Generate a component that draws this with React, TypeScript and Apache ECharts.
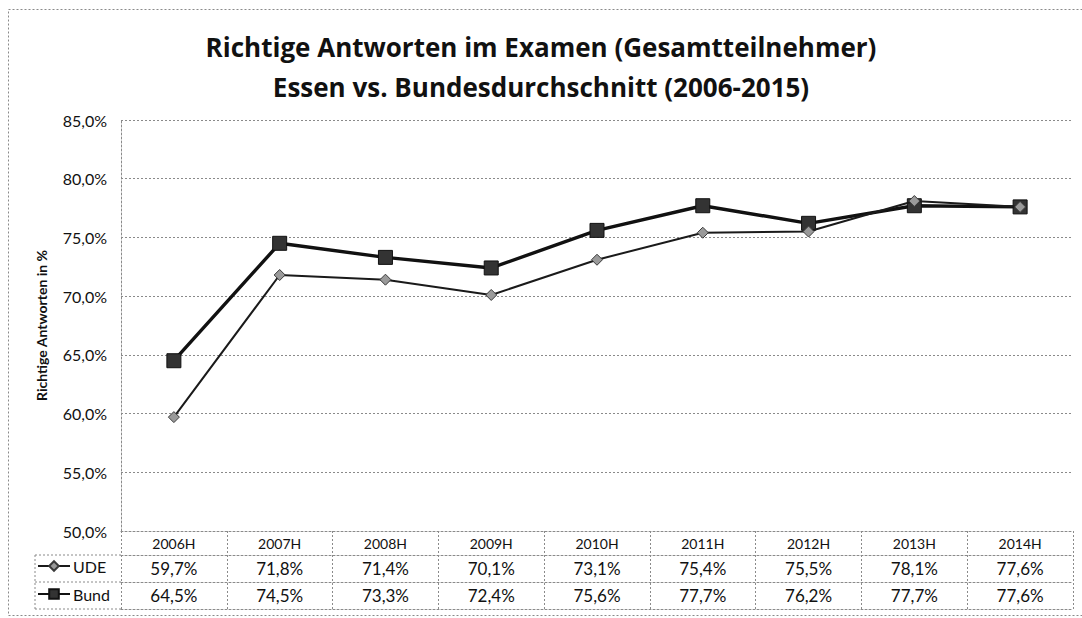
import React, { useEffect, useRef } from "react";
import * as echarts from "echarts";

const categories = ["2006H", "2007H", "2008H", "2009H", "2010H", "2011H", "2012H", "2013H", "2014H"];
const udeValues = [59.7, 71.8, 71.4, 70.1, 73.1, 75.4, 75.5, 78.1, 77.6];
const bundValues = [64.5, 74.5, 73.3, 72.4, 75.6, 77.7, 76.2, 77.7, 77.6];
const yTicks = { min: 50, max: 85, interval: 5 };
const titleLines = [
  "Richtige Antworten im Examen (Gesamtteilnehmer)",
  "Essen vs. Bundesdurchschnitt (2006-2015)",
];
const yAxisName = "Richtige Antworten in %";

const FONT = "Lato, 'Noto Sans', sans-serif";
const TITLE_FONT = "'Open Sans', Lato, sans-serif";
const fmt = (v: number) => v.toFixed(1).replace(".", ",") + "%";
const dotted = { color: "#8a8a8a", width: 1, type: [2, 2] as any };

export default function App() {
  const ref = useRef<HTMLDivElement>(null);
  useEffect(() => {
    if (!ref.current) return;
    const chart = echarts.init(ref.current, undefined, { renderer: "svg" });
    const gridTop = 120;
    const gridBottomY = 531;
    const gridLeft = 121;
    const gridRight = 1073;
    const row1 = gridBottomY + 24;
    const row2 = row1 + 27;
    const row3 = row2 + 27;
    chart.setOption({
      animation: false,
      backgroundColor: "#fff",
      textStyle: { fontFamily: FONT },
      title: {
        text: titleLines.join("\n"),
        left: "center",
        top: 22,
        textStyle: { fontFamily: TITLE_FONT, fontSize: 26, fontWeight: "bold", color: "#111", lineHeight: 40 },
      },
      legend: {
        orient: "vertical",
        left: 32,
        top: row1 - 2,
        itemGap: 12,
        itemWidth: 32,
        itemHeight: 12,
        textStyle: { fontFamily: FONT, fontSize: 16, color: "#111", padding: [0, 0, 0, -2] },
        data: ["UDE", "Bund"],
      },
      grid: { left: gridLeft, right: 1082 - gridRight, top: gridTop, bottom: 618 - gridBottomY, containLabel: false },
      xAxis: [
        {
          type: "category",
          data: categories,
          boundaryGap: true,
          axisLine: { show: true, lineStyle: dotted },
          axisTick: { show: true, interval: 0, length: row3 - gridBottomY, lineStyle: dotted },
          axisLabel: { interval: 0, margin: 5, fontSize: 14, color: "#111", fontFamily: FONT },
          splitLine: { show: false },
        },
        {
          type: "category",
          data: udeValues.map(fmt),
          position: "bottom",
          offset: row1 - gridBottomY,
          axisLine: { show: true, lineStyle: dotted },
          axisTick: { show: false },
          axisLabel: { interval: 0, margin: 5, fontSize: 17, color: "#111", fontFamily: FONT },
        },
        {
          type: "category",
          data: bundValues.map(fmt),
          position: "bottom",
          offset: row2 - gridBottomY,
          axisLine: { show: true, lineStyle: dotted },
          axisTick: { show: false },
          axisLabel: { interval: 0, margin: 5, fontSize: 17, color: "#111", fontFamily: FONT },
        },
        {
          type: "category",
          data: categories,
          position: "bottom",
          offset: row3 - gridBottomY,
          axisLine: { show: true, lineStyle: dotted },
          axisTick: { show: false },
          axisLabel: { show: false },
        },
      ],
      yAxis: {
        type: "value",
        min: yTicks.min,
        max: yTicks.max,
        interval: yTicks.interval,
        name: yAxisName,
        nameLocation: "middle",
        nameRotate: 90,
        nameGap: 73,
        nameTextStyle: { fontFamily: FONT, fontSize: 14, fontWeight: "bold", color: "#111" },
        axisLine: { show: true, lineStyle: dotted },
        axisTick: { show: false },
        axisLabel: { formatter: (v: number) => fmt(v), fontSize: 16, color: "#111", margin: 14, fontFamily: FONT },
        splitLine: { show: true, lineStyle: dotted },
      },
      series: [
        {
          name: "UDE",
          type: "line",
          data: udeValues,
          symbol: "diamond",
          symbolSize: 11,
          itemStyle: { color: "#9a9a9a", borderColor: "#3a3a3a", borderWidth: 1 },
          lineStyle: { color: "#1a1a1a", width: 2 },
          z: 3,
        },
        {
          name: "Bund",
          type: "line",
          data: bundValues,
          symbol: "rect",
          symbolSize: 14,
          itemStyle: { color: "#333", borderColor: "#111", borderWidth: 1 },
          lineStyle: { color: "#111", width: 3.4 },
          z: 2,
        },
      ],
      graphic: [
        { type: "rect", shape: { x: 8.5, y: 9.5, width: 1080, height: 606 }, style: { fill: "none", stroke: "#8a8a8a", lineWidth: 1, lineDash: [2, 2] }, silent: true },
        { type: "line", shape: { x1: 35, y1: row1, x2: gridLeft, y2: row1 }, style: { stroke: "#8a8a8a", lineWidth: 1, lineDash: [2, 2] } },
        { type: "line", shape: { x1: 35, y1: row2, x2: gridLeft, y2: row2 }, style: { stroke: "#8a8a8a", lineWidth: 1, lineDash: [2, 2] } },
        { type: "line", shape: { x1: 35, y1: row3, x2: gridLeft, y2: row3 }, style: { stroke: "#8a8a8a", lineWidth: 1, lineDash: [2, 2] } },
        { type: "line", shape: { x1: 35, y1: row1, x2: 35, y2: row3 }, style: { stroke: "#8a8a8a", lineWidth: 1, lineDash: [2, 2] } },
      ],
    });
    return () => chart.dispose();
  }, []);
  return <div ref={ref} style={{ position: "absolute", left: 0, top: 0, width: 1082, height: 618 }} />;
}
